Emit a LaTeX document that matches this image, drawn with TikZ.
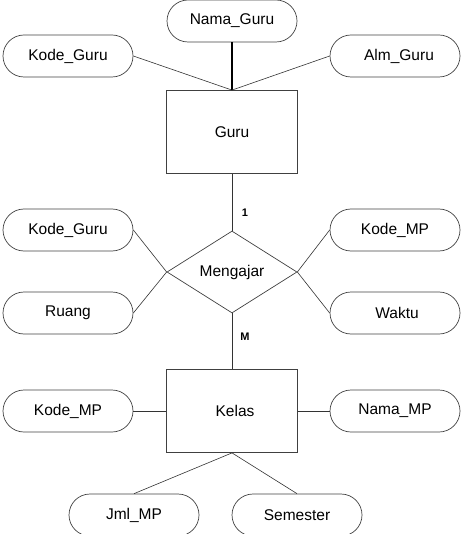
\documentclass[tikz,border=0pt]{standalone}
\usepackage{fontspec}
\setmainfont{Liberation Sans}
\usetikzlibrary{shapes.misc,shapes.geometric}
\begin{document}
\begin{tikzpicture}[x=1pt,y=-1pt,
  attr/.style={rounded rectangle, draw=black!75, line width=0.7pt, minimum width=130pt, minimum height=42pt, inner sep=0pt, font=\fontsize{15.5}{18}\selectfont},
  ent/.style={rectangle, draw=black!75, line width=0.8pt, minimum width=131pt, minimum height=83pt, inner sep=0pt, font=\fontsize{15.5}{18}\selectfont},
  rel/.style={diamond, draw=black!75, line width=0.7pt, minimum width=130pt, minimum height=82pt, inner sep=0pt, font=\fontsize{15.5}{18}\selectfont},
  conn/.style={draw=black!80, line width=0.6pt},
  card/.style={font=\bfseries\fontsize{11}{13}\selectfont, inner sep=0pt}]
\useasboundingbox (0,0) rectangle (466,534);
% Guru
\node[ent] (guru) at (232,132) {Guru};
\node[attr] (namaguru) at (232,21) {Nama\_Guru};
\node[attr] (kodeguru1) at (68,56) {Kode\_Guru};
\node[attr] (almguru) at (395,56) {\hspace{8pt}Alm\_Guru};
% Mengajar
\node[rel] (mengajar) at (232,272) {Mengajar};
\node[attr] (kodeguru2) at (68,230) {Kode\_Guru};
\node[attr] (ruang) at (68,313) {Ruang};
\node[attr] (kodemp1) at (395,230) {Kode\_MP};
\node[attr] (waktu) at (395,313) {\hspace{4pt}Waktu};
% Kelas
\node[ent] (kelas) at (232,411) {\hspace{6pt}Kelas};
\node[attr] (kodemp2) at (68,411) {Kode\_MP};
\node[attr] (namamp) at (395,411) {Nama\_MP};
\node[attr] (jmlmp) at (134,515) {Jml\_MP};
\node[attr] (semester) at (297,515) {Semester};
% cardinalities
\node[card] (c1) at (245,213) {1};
\node[card] (cm) at (245,337) {M};
% connectors
\draw[conn] (kodeguru1.east) -- (guru.north);
\draw[draw=black, line width=1.2pt] (namaguru.south) -- (guru.north);
\draw[conn] (almguru.west) -- (guru.north);
\draw[conn] (guru.south) -- (mengajar.north);
\draw[conn] (mengajar.south) -- (kelas.north);
\draw[conn] (kodeguru2.east) -- (mengajar.west);
\draw[conn] (ruang.east) -- (mengajar.west);
\draw[conn] (kodemp1.west) -- (mengajar.east);
\draw[conn] (waktu.west) -- (mengajar.east);
\draw[conn] (kodemp2.east) -- (kelas.west);
\draw[conn] (namamp.west) -- (kelas.east);
\draw[conn] (kelas.south) -- (jmlmp.north);
\draw[conn] (kelas.south) -- (semester.north);
\end{tikzpicture}
\end{document}
